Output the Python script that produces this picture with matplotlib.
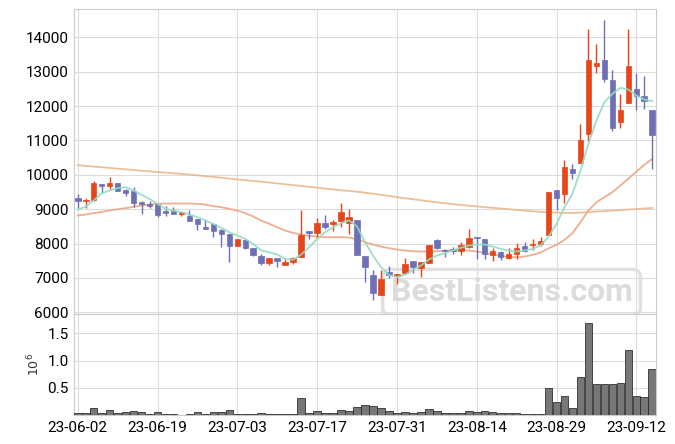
import matplotlib
matplotlib.use('Agg')
import matplotlib.pyplot as plt
from matplotlib import font_manager

# pick a narrow font if it is there
names = {f.name for f in font_manager.fontManager.ttflist}
base_font = 'Liberation Sans Narrow' if 'Liberation Sans Narrow' in names else 'Roboto'
plt.rcParams['font.family'] = [base_font, 'DejaVu Sans']

# daily prices (trading days 23-06-02 .. 23-09-14)
opens = [9330, 9235, 9260, 9720, 9670, 9750, 9545, 9515, 9205, 9165,
         9165, 8940, 8940, 8865, 8815, 8700, 8495, 8555, 8390, 8280,
         7925, 8090, 7885, 7650, 7430, 7585, 7370, 7460, 7615, 8370,
         8310, 8600, 8565, 8660, 8600, 8690, 7640, 7090, 6515, 7185,
         7070, 7135, 7495, 7295, 7440, 8090, 7805, 7835, 7785, 7895,
         8205, 8135, 7660, 7750, 7585, 7700, 7915, 7965, 7980, 8250,
         9545, 9435, 10175, 10340, 11180, 13160, 13345, 12745, 11530, 12085,
         12500, 12300, 11900]
highs = [9450, 9330, 9825, 9720, 9940, 9765, 9590, 9640, 9225, 9225,
         9165, 9085, 9070, 8915, 8980, 8700, 8720, 8555, 8425, 8280,
         8145, 8090, 7885, 7700, 7585, 7585, 7545, 7620, 8980, 8370,
         8740, 8835, 8690, 9185, 9000, 8690, 7640, 7235, 7235, 7350,
         7120, 7585, 7495, 7450, 7970, 8125, 7855, 7895, 8040, 8425,
         8205, 8135, 7865, 7770, 7870, 8020, 8040, 8135, 8205, 9490,
         9545, 10435, 10320, 11485, 14245, 13810, 14510, 13055, 12355, 14245,
         12975, 12880, 11900]
lows = [9030, 9030, 9245, 9475, 9570, 9525, 9390, 9060, 8865, 9030,
        8770, 8795, 8855, 8795, 8670, 8390, 8420, 8185, 7905, 7465,
        7925, 7835, 7650, 7380, 7390, 7330, 7370, 7410, 7615, 8125,
        8165, 8430, 8360, 8485, 8280, 7670, 6895, 6360, 6515, 7000,
        6835, 7135, 7135, 7030, 7440, 7855, 7620, 7690, 7670, 7865,
        7555, 7555, 7485, 7525, 7555, 7565, 7740, 7800, 7925, 8250,
        8980, 9185, 9885, 10340, 10980, 12965, 12695, 11270, 11365, 12085,
        11890, 11920, 10175]
closes = [9250, 9280, 9750, 9670, 9750, 9525, 9485, 9175, 9145, 9085,
          8835, 8885, 8855, 8915, 8670, 8565, 8420, 8360, 8270, 7925,
          8145, 7865, 7680, 7430, 7585, 7485, 7465, 7585, 8235, 8300,
          8600, 8485, 8630, 8920, 8775, 7670, 7310, 6565, 6980, 7080,
          7120, 7410, 7310, 7450, 7945, 7885, 7780, 7770, 7960, 8175,
          8155, 7700, 7795, 7615, 7700, 7875, 7770, 7990, 8060, 9490,
          9320, 10240, 10045, 11000, 13345, 13240, 12775, 11355, 11900, 13180,
          12290, 12140, 11155]
volume = [0.037, 0.037, 0.128, 0.037, 0.091, 0.037, 0.061, 0.073, 0.055, 0.018,
          0.055, 0.024, 0.024, 0.005, 0.018, 0.055, 0.018, 0.055, 0.055, 0.091,
          0.018, 0.018, 0.018, 0.037, 0.018, 0.018, 0.018, 0.018, 0.317, 0.037,
          0.073, 0.037, 0.037, 0.091, 0.073, 0.146, 0.189, 0.171, 0.128, 0.073,
          0.037, 0.055, 0.037, 0.055, 0.110, 0.073, 0.037, 0.037, 0.037, 0.073,
          0.055, 0.073, 0.055, 0.037, 0.037, 0.037, 0.018, 0.018, 0.018, 0.494,
          0.238, 0.354, 0.128, 0.695, 1.683, 0.567, 0.567, 0.567, 0.585, 1.189,
          0.354, 0.329, 0.848]

# moving averages
ma_short = [8990, 9077, 9252, 9465, 9543, 9611, 9640, 9543, 9417, 9300,
            9155, 9010, 8961, 8913, 8845, 8767, 8670, 8573, 8456, 8330,
            8233, 8136, 7991, 7797, 7748, 7681, 7554, 7530, 7681, 7894,
            8136, 8330, 8476, 8592, 8670, 8500, 8040, 7651, 7312, 7089,
            7021, 7089, 7234, 7361, 7535, 7651, 7719, 7800, 7875, 7943,
            7972, 7972, 7913, 7846, 7797, 7768, 7797, 7846, 7943, 8200,
            8573, 9058, 9446, 10125, 10901, 11580, 12113, 12356, 12530, 12482,
            12307, 12191, 12142]
ma_mid = [8816, 8845, 8884, 8922, 8961, 9000, 9029, 9068, 9106, 9136,
          9155, 9165, 9165, 9165, 9165, 9155, 9136, 9087, 9058, 9010,
          8961, 8884, 8787, 8670, 8573, 8476, 8379, 8311, 8263, 8224,
          8204, 8185, 8185, 8185, 8175, 8120, 8040, 7972, 7913, 7865,
          7826, 7797, 7778, 7768, 7768, 7778, 7787, 7805, 7816, 7797,
          7768, 7729, 7681, 7642, 7603, 7603, 7622, 7671, 7739, 7860,
          7962, 8108, 8302, 8622, 8961, 9203, 9349, 9495, 9689, 9883,
          10096, 10290, 10464]
ma_long = [10280, 10260, 10240, 10220, 10200, 10180, 10160, 10140, 10120, 10100,
           10080, 10065, 10045, 10025, 10005, 9985, 9960, 9940, 9915, 9890,
           9865, 9845, 9820, 9800, 9775, 9750, 9725, 9700, 9675, 9650,
           9625, 9600, 9575, 9550, 9530, 9510, 9480, 9450, 9420, 9385,
           9350, 9320, 9290, 9260, 9230, 9200, 9175, 9150, 9125, 9100,
           9080, 9060, 9040, 9020, 9000, 8980, 8960, 8940, 8920, 8910,
           8900, 8895, 8893, 8900, 8915, 8930, 8945, 8960, 8975, 8990,
           9005, 9020, 9035]

tick_pos = [0, 10, 20, 30, 40, 50, 60, 70]
tick_labels = ['23-06-02', '23-06-19', '23-07-03', '23-07-17',
               '23-07-31', '23-08-14', '23-08-29', '23-09-12']

up_color = '#e5461a'
down_color = '#6d70b4'
grid_color = '#dddddd'

fig = plt.figure(figsize=(6.75, 4.44), dpi=100)
ax = fig.add_axes([74.3 / 675, 129.7 / 444, 581.4 / 675, 305 / 444])
axv = fig.add_axes([74.3 / 675, 28.7 / 444, 581.4 / 675, 101 / 444], sharex=ax)

x = list(range(len(opens)))
colors = [up_color if c >= o else down_color for o, c in zip(opens, closes)]
bottoms = [min(o, c) for o, c in zip(opens, closes)]
heights = [max(abs(c - o), 20) for o, c in zip(opens, closes)]

ax.vlines(x, lows, highs, colors=colors, linewidth=1.0, zorder=3)
ax.bar(x, heights, bottom=bottoms, width=0.7, color=colors, edgecolor=colors,
       linewidth=0.5, zorder=4)

ax.plot(x, ma_long, color='#e9b88c', linewidth=1.3, alpha=0.9, zorder=2)
ax.plot(x, ma_mid, color='#eea585', linewidth=1.3, alpha=0.9, zorder=2)
ax.plot(x, ma_short, color='#93dcc2', linewidth=1.3, alpha=0.9, zorder=5)

# watermark
ax.text(0.752, 0.072, 'BestListens.com', transform=ax.transAxes, ha='center', va='center',
        fontsize=23, fontweight='bold', color='#dcdcdc', zorder=1,
        bbox=dict(boxstyle='round,pad=0.25', facecolor='none', edgecolor='#e0e0e0', linewidth=2.5))

ax.set_ylim(5942, 14815)
ax.set_yticks(range(6000, 15000, 1000))
ax.set_xlim(-0.43, 72.43)
ax.set_xticks(tick_pos)
ax.tick_params(axis='x', labelbottom=False, length=0)
ax.tick_params(axis='y', length=0, labelsize=11, pad=4)
ax.grid(True, color=grid_color, linewidth=0.8)
ax.set_axisbelow(True)

vol = [v * 1e6 for v in volume]
axv.bar(x, vol, width=0.95, color='#707070', edgecolor='#2a2a2a', linewidth=0.6, alpha=0.95, zorder=3)
axv.set_ylim(0, 1.848e6)
axv.set_yticks([0.5e6, 1.0e6, 1.5e6])
axv.set_yticklabels(['0.5', '1.0', '1.5'])
axv.set_xticks(tick_pos)
axv.set_xticklabels(tick_labels)
axv.tick_params(axis='both', length=0, labelsize=11, pad=4)
axv.set_ylabel(r'$10^6$', fontsize=9, family='DejaVu Sans', color='#333333')
axv.grid(True, color=grid_color, linewidth=0.8)
axv.set_axisbelow(True)

for a in (ax, axv):
    for s in a.spines.values():
        s.set_color('#cccccc')

fig.savefig('out.png', dpi=100)
